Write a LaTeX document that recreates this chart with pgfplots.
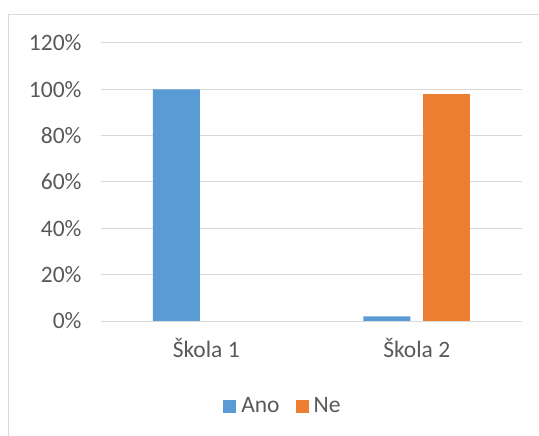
\documentclass[border=0pt]{standalone}
\usepackage{pgfplots}
\pgfplotsset{compat=1.18}
\usepackage{fontspec}
\setmainfont{Carlito}
\definecolor{ano}{HTML}{5B9BD5}
\definecolor{ne}{HTML}{ED7D31}
\definecolor{gridc}{HTML}{D9D9D9}
\definecolor{txt}{HTML}{595959}
\begin{document}
\begin{tikzpicture}
\path[use as bounding box] (0,0) rectangle (539bp,436bp);
\draw[gridc, line width=1bp] (8.5bp,0) -- (8.5bp,421.5bp) -- (539bp,421.5bp);
\begin{axis}[
  at={(101bp,115bp)}, anchor=south west,
  scale only axis, width=421bp, height=278bp,
  xmin=-0.5, xmax=1.5, ymin=0, ymax=120,
  ybar=13bp, bar width=47bp,
  xtick={0,1}, xticklabels={Škola 1, Škola 2},
  ytick={0,20,40,60,80,100,120},
  yticklabel={\pgfmathprintnumber{\tick}\%},
  /pgf/number format/assume math mode=true,
  ymajorgrids, grid style={gridc, line width=1bp},
  axis line style={draw=none},
  major tick length=0pt,
  tick label style={font=\fontsize{23.5bp}{28bp}\selectfont, text=txt},
  yticklabel style={xshift=-16bp},
  xticklabel style={yshift=-14bp},
  legend style={at={(0.432,-0.306)}, anchor=center, draw=none, fill=none,
    legend columns=2, font=\fontsize{23.5bp}{28bp}\selectfont, text=txt,
    /tikz/every even column/.append style={column sep=14bp},
    /tikz/every odd column/.append style={column sep=3bp}},
  legend image code/.code={\fill[#1] (0bp,-6.5bp) rectangle (13bp,6.5bp);},
]
\addplot[fill=ano, draw=none] coordinates {(0,100) (1,2)};
\addplot[fill=ne, draw=none] coordinates {(1,98)};
\legend{Ano, Ne}
\end{axis}
\end{tikzpicture}
\end{document}
